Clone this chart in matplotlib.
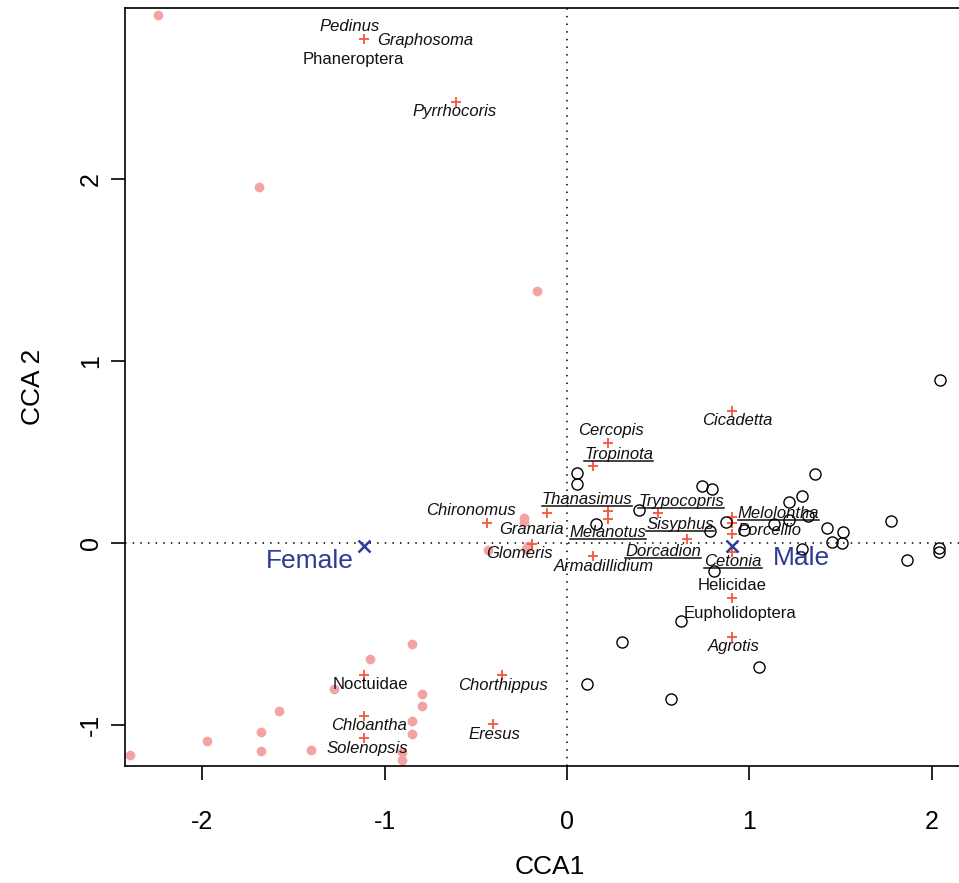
import numpy as np
import matplotlib
matplotlib.use("Agg")
import matplotlib.pyplot as plt
from matplotlib.lines import Line2D

plt.rcParams['font.family'] = ['Liberation Sans', 'DejaVu Sans']

# site scores, female samples (pink dots)
fem_x = [-2.243, -1.690, -0.165, -2.397, -1.975, -1.679, -1.679, -1.580, -1.404,
         -1.278, -1.081, -0.850, -0.795, -0.795, -0.850, -0.850, -0.907, -0.907,
         -0.234, -0.234, -0.435, -0.225, -0.212]
fem_y = [2.901, 1.956, 1.385, -1.165, -1.088, -1.038, -1.143, -0.923, -1.137,
         -0.802, -0.637, -0.555, -0.830, -0.896, -0.978, -1.049, -1.147, -1.192,
         0.136, 0.117, -0.038, -0.031, -0.016]

# site scores, male samples (open circles)
male_x = [0.053, 0.053, 0.159, 0.395, 0.739, 0.797, 2.044, 1.358, 1.292, 1.216,
          0.874, 0.786, 1.138, 1.216, 1.320, 1.425, 1.512, 1.455, 1.511, 1.776,
          2.043, 2.043, 1.863, 1.291, 0.806, 0.627, 0.302, 0.111, 0.570, 1.053, 0.972]
male_y = [0.383, 0.324, 0.104, 0.181, 0.313, 0.295, 0.896, 0.381, 0.257, 0.227,
          0.114, 0.066, 0.104, 0.126, 0.147, 0.085, 0.058, 0.008, -0.001, 0.123,
          -0.026, -0.048, -0.096, -0.034, -0.153, -0.430, -0.544, -0.775, -0.859,
          -0.680, 0.071]

# species scores (red crosses)
sp_x = [-1.112, -0.609, 0.227, 0.145, 0.227, 0.227, -0.110, -0.441, -0.194, 0.145,
        0.501, 0.660, 0.905, 0.905, 0.905, 0.905, 0.905, 0.905, 0.903,
        -1.112, -1.112, -1.112, -0.358, -0.408]
sp_y = [2.769, 2.425, 0.551, 0.423, 0.174, 0.134, 0.167, 0.108, -0.005, -0.070,
        0.167, 0.022, 0.727, 0.145, 0.108, 0.048, -0.048, -0.300, -0.515,
        -0.723, -0.949, -1.071, -0.723, -0.993]

# constraint centroids
sex_names = ['Female', 'Male']
sex_x = [-1.112, 0.903]
sex_y = [-0.016, -0.016]
sex_lab_x = [-1.408, 1.284]
sex_lab_y = [-0.099, -0.081]

# species labels
lab_names = ['Pedinus', 'Graphosoma', 'Phaneroptera', 'Pyrrhocoris', 'Cercopis',
             'Tropinota', 'Thanasimus', 'Trypocopris', 'Chironomus', 'Granaria',
             'Melanotus', 'Sisyphus', 'Melolontha', 'Porcellio', 'Glomeris',
             'Armadillidium', 'Dorcadion', 'Cetonia', 'Helicidae', 'Eupholidoptera',
             'Agrotis', 'Cicadetta', 'Noctuidae', 'Chloantha', 'Solenopsis',
             'Chorthippus', 'Eresus']
lab_x = [-1.190, -0.780, -1.174, -0.614, 0.241, 0.285, 0.110, 0.625, -0.527, -0.197,
         0.225, 0.622, 1.161, 1.113, -0.258, 0.203, 0.529, 0.911, 0.908, 0.947,
         0.914, 0.937, -1.079, -1.087, -1.096, -0.351, -0.397]
lab_y = [2.837, 2.760, 2.657, 2.372, 0.618, 0.484, 0.239, 0.228, 0.176, 0.075,
         0.056, 0.104, 0.163, 0.070, -0.060, -0.128, -0.048, -0.102, -0.235, -0.385,
         -0.568, 0.674, -0.780, -1.000, -1.128, -0.784, -1.051]
lab_style = ['italic', 'italic', 'normal', 'italic', 'italic', 'italic', 'italic',
             'italic', 'italic', 'italic', 'italic', 'italic', 'italic', 'italic',
             'italic', 'italic', 'italic', 'italic', 'normal', 'normal', 'italic',
             'italic', 'normal', 'italic', 'italic', 'italic', 'italic']
underlined = ['Tropinota', 'Thanasimus', 'Trypocopris', 'Melanotus', 'Sisyphus',
              'Melolontha', 'Dorcadion', 'Cetonia']

fig = plt.figure(figsize=(9.59, 8.83), dpi=100)
ax = fig.add_axes([0.1303, 0.1325, 0.8863, 0.8584])
ax.set_xlim(-2.4246, 2.238)
ax.set_ylim(-1.2253, 2.9396)

ax.axhline(0, color='black', lw=1.1, ls=(0, (1, 4)), zorder=1)
ax.axvline(0, color='black', lw=1.1, ls=(0, (1, 4)), zorder=1)

ax.plot(fem_x, fem_y, 'o', ms=7, color='#f4a3a3', mec='none', zorder=2)
ax.plot(male_x, male_y, 'o', ms=8, mfc='none', mec='black', mew=1.0, zorder=4)
ax.plot(sp_x, sp_y, '+', ms=7, color='#f5563c', mew=1.3, zorder=3)
ax.plot(sex_x, sex_y, 'x', ms=8, color='#2e3f9a', mew=1.8, zorder=5)

texts = []
for name, x, y, st in zip(lab_names, lab_x, lab_y, lab_style):
    t = ax.text(x, y, name, fontsize=12, style=st, ha='center', va='center',
                color='#111111', zorder=3)
    texts.append(t)

for name, x, y in zip(sex_names, sex_lab_x, sex_lab_y):
    ax.text(x, y, name, fontsize=19, ha='center', va='center', color='#2e3a94', zorder=3)

# underline selected species
fig.canvas.draw()
renderer = fig.canvas.get_renderer()
inv = ax.transData.inverted()
for t in texts:
    if t.get_text() in underlined:
        bb = t.get_window_extent(renderer)
        (x0, y0), (x1, _) = inv.transform([[bb.x0, bb.y0 + 1], [bb.x1, bb.y0 + 1]])
        ax.add_line(Line2D([x0, x1], [y0, y0], color='#111111', lw=1.1, zorder=3))

ax.set_xticks([-2, -1, 0, 1, 2])
ax.set_yticks([-1, 0, 1, 2])
ax.set_xticklabels(['-2', '-1', '0', '1', '2'])
ax.set_yticklabels(['-1', '0', '1', '2'], rotation=90, va='center')
ax.tick_params(direction='out', length=10, width=1.2, labelsize=18)
ax.tick_params(axis='x', pad=22)
ax.tick_params(axis='y', pad=6)
for s in ax.spines.values():
    s.set_linewidth(1.2)

ax.set_xlabel('CCA1', fontsize=19, labelpad=15)
ax.set_ylabel('CCA 2', fontsize=19, labelpad=24)

fig.savefig('out.png', dpi=100)
